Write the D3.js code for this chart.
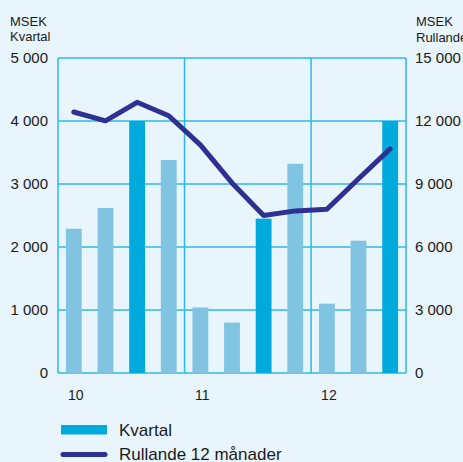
<!DOCTYPE html>
<html><head><meta charset="utf-8">
<script src="https://cdn.jsdelivr.net/npm/d3@7"></script>
<style>
html,body{margin:0;padding:0;background:#e8f5fc;}
svg{display:block;}
text{font-family:"Liberation Sans",Arial,sans-serif;fill:#1a1a1a;}
</style></head>
<body>
<svg id="c" width="463" height="462"></svg>
<script>
const quarters = ["10 Q1","10 Q2","10 Q3","10 Q4","11 Q1","11 Q2","11 Q3","11 Q4","12 Q1","12 Q2","12 Q3"];
const yearLabels = ["10","","","","11","","","","12","",""];
const kvartal = [2290, 2620, 4000, 3380, 1040, 800, 2450, 3320, 1100, 2100, 4000];
const rullande = [12430, 12010, 12890, 12250, 10860, 9050, 7500, 7720, 7800, 9250, 10670];
const highlighted = [false,false,true,false,false,false,true,false,false,false,true];
const leftTicks = [0,1000,2000,3000,4000,5000];
const rightTicks = [0,3000,6000,9000,12000,15000];
const yearBoundaries = [0,4,8,11];

const svg = d3.select("#c");
const L = 58, R = 406, T = 58, B = 373;
const x = d3.scaleBand().domain(quarters).range([L,R]).paddingInner(0.5).paddingOuter(0.25);
const yL = d3.scaleLinear().domain([0,5000]).range([B,T]);
const yR = d3.scaleLinear().domain([0,15000]).range([B,T]);
const fmt = v => d3.format(",")(v).replace(/,/g," ");
const grid = "#2cb9ea";

// horizontal gridlines
svg.append("g").selectAll("line").data(leftTicks).join("line")
  .attr("x1",L).attr("x2",R).attr("y1",d=>yL(d)).attr("y2",d=>yL(d))
  .attr("stroke",grid).attr("stroke-width",1.5);
// vertical lines at year boundaries and borders
const step = x.step();
svg.append("g").selectAll("line").data(yearBoundaries).join("line")
  .attr("x1",d=>L+d*step).attr("x2",d=>L+d*step).attr("y1",T).attr("y2",B)
  .attr("stroke",grid).attr("stroke-width",1.5);

// bars
svg.append("g").selectAll("rect").data(quarters).join("rect")
  .attr("x",d=>x(d)).attr("width",x.bandwidth())
  .attr("y",(d,i)=>yL(kvartal[i])).attr("height",(d,i)=>B-yL(kvartal[i]))
  .attr("fill",(d,i)=>highlighted[i]?"#00aadd":"#80c4e2");

// line
const line = d3.line().x((d,i)=>x(quarters[i])+x.bandwidth()/2).y(d=>yR(d));
svg.append("path").datum(rullande).attr("d",line)
  .attr("fill","none").attr("stroke","#2e3192").attr("stroke-width",5)
  .attr("stroke-linejoin","round").attr("stroke-linecap","round");

// left axis labels
svg.append("g").selectAll("text").data(leftTicks).join("text")
  .attr("x",48).attr("y",d=>yL(d)+5).attr("text-anchor","end")
  .attr("font-size",15).text(fmt);
// right axis labels
svg.append("g").selectAll("text").data(rightTicks).join("text")
  .attr("x",415).attr("y",d=>yR(d)+5).attr("text-anchor","start")
  .attr("font-size",15).text(fmt);
// x labels
svg.append("g").selectAll("text").data(quarters).join("text")
  .attr("x",d=>x(d)+x.bandwidth()/2+2).attr("y",399.5).attr("text-anchor","middle")
  .attr("font-size",14).text((d,i)=>yearLabels[i]);

// axis titles
svg.append("text").attr("x",10).attr("y",25.5).attr("font-size",13).text("MSEK");
svg.append("text").attr("x",10).attr("y",40.5).attr("font-size",13).text("Kvartal");
svg.append("text").attr("x",416).attr("y",25.5).attr("font-size",13).text("MSEK");
svg.append("text").attr("x",416).attr("y",42).attr("font-size",13).text("Rullande");

// legend
svg.append("rect").attr("x",61).attr("y",425).attr("width",46).attr("height",9.5).attr("fill","#00aadd");
svg.append("text").attr("x",119).attr("y",436).attr("font-size",17).text("Kvartal");
svg.append("line").attr("x1",63).attr("x2",105).attr("y1",454.5).attr("y2",454.5)
  .attr("stroke","#2e3192").attr("stroke-width",5).attr("stroke-linecap","round");
svg.append("text").attr("x",119).attr("y",460).attr("font-size",17).text("Rullande 12 månader");
</script>
</body></html>
